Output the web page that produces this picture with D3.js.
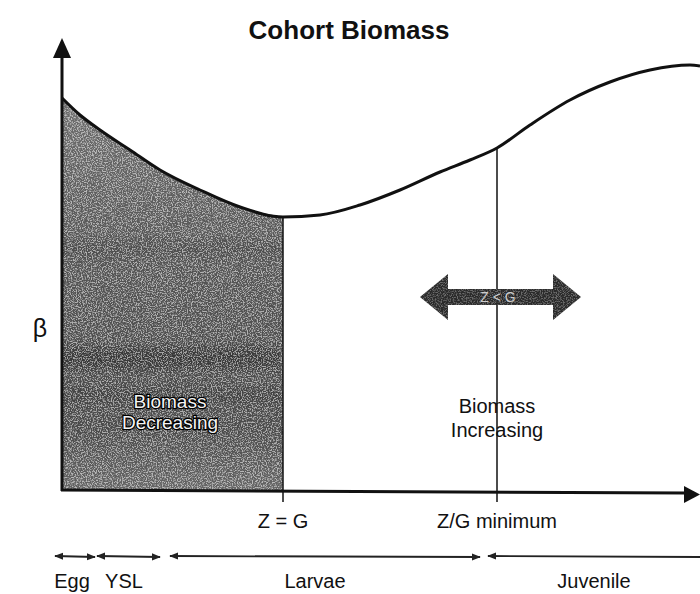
<!DOCTYPE html>
<meta charset="utf-8">
<style>
body { margin: 0; background: #fff; }
text { font-family: "Liberation Sans", Arial, sans-serif; }
.curve { fill: none; stroke: #111; stroke-width: 3px; }
.axis-line { stroke: #111; stroke-width: 3px; }
</style>
<body>
<script src="https://d3js.org/d3.v7.min.js"></script>
<script>

// curve (age units, biomass units)
var ages    = [0, 1.8, 3.8, 6.8, 9.8, 13.8, 17.8, 22.1, 25.8, 29.8, 33.8, 37.8, 40.8, 43.5, 46.8, 50.8, 54.8, 58.8, 62.8, 63.8];
var biomass = [39.2, 37.5, 36, 34, 32, 30, 28.3, 27.3, 27.5, 28.5, 30, 31.8, 33, 34.2, 36.5, 39, 40.8, 42, 42.5, 42.4];

// marks on the x axis
var markerNames = ["Z = G", "Z/G minimum"];
var markerAges  = [22.1, 43.5];

// life stages along the bottom
var stageNames = ["Egg", "YSL", "Larvae", "Juvenile"];
var stageStart = [-0.7, 3.5, 10.8, 42.6];
var stageEnd   = [3.3, 9.8, 41.8, 64];

var width = 700, height = 594;
var svg = d3.select("body").append("svg")
    .attr("width", width)
    .attr("height", height);

var x = d3.scaleLinear().domain([0, 64]).range([62, 702]);
var y = d3.scaleLinear().domain([0, 45]).range([490, 40]);

var defs = svg.append("defs");
// grainy speckles for the shaded area
var f = defs.append("filter").attr("id", "grain")
    .attr("x", 0).attr("y", 0).attr("width", 1).attr("height", 1);
f.append("feTurbulence").attr("type", "fractalNoise")
    .attr("baseFrequency", 0.8).attr("numOctaves", 2).attr("seed", 5).attr("result", "n");
f.append("feColorMatrix").attr("in", "n").attr("type", "matrix")
    .attr("values", "0 0 0 0 1  0 0 0 0 1  0 0 0 0 1  4.5 0 0 0 -2.0")
    .attr("result", "dots");
f.append("feComposite").attr("in", "dots").attr("in2", "SourceGraphic").attr("operator", "in");

defs.append("filter").attr("id", "soft")
    .attr("x", 0).attr("y", -1).attr("width", 1).attr("height", 3)
  .append("feGaussianBlur").attr("stdDeviation", "0 5");

// softer vertical shading: lighter near the top and the edges
var g = defs.append("linearGradient").attr("id", "shadeGrad")
    .attr("x1", 0).attr("y1", 0).attr("x2", 0).attr("y2", 1);
g.append("stop").attr("offset", "0%").attr("stop-color", "#6e6e6e");
g.append("stop").attr("offset", "40%").attr("stop-color", "#555");
g.append("stop").attr("offset", "85%").attr("stop-color", "#4a4a4a");
g.append("stop").attr("offset", "100%").attr("stop-color", "#666");

defs.append("marker").attr("id", "head")
    .attr("viewBox", "0 0 10 10").attr("refX", 9).attr("refY", 5)
    .attr("markerWidth", 5).attr("markerHeight", 5).attr("orient", "auto-start-reverse")
  .append("path").attr("d", "M0,1 L10,5 L0,9 Z").attr("fill", "#222");

var pts = ages.map(function(a, i) { return [a, biomass[i]]; });
var zg = markerAges[0];
var shadePts = pts.filter(function(p) { return p[0] <= zg; });

var area = d3.area().curve(d3.curveMonotoneX)
    .x(function(d) { return x(d[0]); })
    .y0(y(0))
    .y1(function(d) { return y(d[1]); });

svg.append("path").datum(shadePts)
    .attr("d", area)
    .attr("fill", "url(#shadeGrad)");
// darker bands in the scan
[[242, 12, 0.12], [347, 22, 0.28], [388, 14, 0.15]].forEach(function(b) {
  svg.append("rect")
      .attr("x", x(0) + 2).attr("y", b[0]).attr("width", x(zg) - x(0) - 5).attr("height", b[1])
      .attr("fill", "#000").attr("opacity", b[2]).attr("filter", "url(#soft)");
});
svg.append("path").datum(shadePts)
    .attr("d", area)
    .attr("fill", "#fff").attr("opacity", 0.55)
    .attr("filter", "url(#grain)");

svg.append("line")
    .attr("x1", x(zg)).attr("x2", x(zg))
    .attr("y1", y(biomass[ages.indexOf(zg)])).attr("y2", y(0) + 12)
    .attr("stroke", "#111").attr("stroke-width", 1.5);

svg.append("line")
    .attr("x1", x(markerAges[1])).attr("x2", x(markerAges[1]))
    .attr("y1", y(biomass[ages.indexOf(markerAges[1])])).attr("y2", y(0) + 12)
    .attr("stroke", "#111").attr("stroke-width", 1.5);

var line = d3.line().curve(d3.curveMonotoneX)
    .x(function(d) { return x(d[0]); })
    .y(function(d) { return y(d[1]); });
svg.append("path").datum(pts).attr("class", "curve").attr("d", line);

// axes with arrow heads
svg.append("line").attr("class", "axis-line")
    .attr("x1", x(0)).attr("y1", y(0) + 1).attr("x2", x(0)).attr("y2", 56);
svg.append("path").attr("d", "M" + (x(0) - 9) + ",58 L" + x(0) + ",38 L" + (x(0) + 9) + ",58 Z").attr("fill", "#111");
svg.append("line").attr("class", "axis-line")
    .attr("x1", x(0) - 1).attr("y1", y(0)).attr("x2", 686).attr("y2", y(0) + 3);
svg.append("path").attr("d", "M684,486 L700,494.5 L684,503 Z").attr("fill", "#111");

// double arrow Z < G
var ax0 = 420, ax1 = 581, ay = 297;
var dbl = "M" + ax0 + "," + ay +
    " L" + (ax0 + 28) + "," + (ay - 23) + " L" + (ax0 + 28) + "," + (ay - 8) +
    " L" + (ax1 - 28) + "," + (ay - 8) + " L" + (ax1 - 28) + "," + (ay - 23) +
    " L" + ax1 + "," + ay +
    " L" + (ax1 - 28) + "," + (ay + 23) + " L" + (ax1 - 28) + "," + (ay + 8) +
    " L" + (ax0 + 28) + "," + (ay + 8) + " L" + (ax0 + 28) + "," + (ay + 23) + " Z";
svg.append("path").attr("d", dbl).attr("fill", "#2a2a2a");
svg.append("path").attr("d", dbl).attr("fill", "#fff").attr("opacity", 0.3).attr("filter", "url(#grain)");
svg.append("text").attr("x", 498).attr("y", 302)
    .attr("text-anchor", "middle").attr("font-size", 14)
    .attr("fill", "#ccc").text("Z < G");

// labels
svg.append("text").attr("x", 349).attr("y", 39)
    .attr("text-anchor", "middle").attr("font-size", 26).attr("font-weight", "bold")
    .attr("fill", "#111").text("Cohort Biomass");
svg.append("text").attr("x", 40).attr("y", 337)
    .attr("text-anchor", "middle").attr("font-size", 25)
    .attr("font-family", "DejaVu Sans").attr("fill", "#111").text("β");

svg.selectAll(".mk").data(markerNames).enter().append("text")
    .attr("x", function(d, i) { return x(markerAges[i]); })
    .attr("y", 528).attr("text-anchor", "middle").attr("font-size", 20)
    .attr("fill", "#111").text(function(d) { return d; });

var inc = svg.append("text").attr("text-anchor", "middle").attr("font-size", 20).attr("fill", "#111");
inc.append("tspan").attr("x", x(markerAges[1])).attr("y", 413).text("Biomass");
inc.append("tspan").attr("x", x(markerAges[1])).attr("y", 437).text("Increasing");

var dec = svg.append("text").attr("text-anchor", "middle").attr("font-size", 19)
    .attr("fill", "#f4f4f4").attr("stroke", "#000").attr("stroke-width", 2.5)
    .attr("paint-order", "stroke");
dec.append("tspan").attr("x", 170).attr("y", 408).text("Biomass");
dec.append("tspan").attr("x", 170).attr("y", 429).text("Decreasing");

// stage arrows
svg.selectAll(".st").data(stageNames).enter().append("line")
    .attr("x1", function(d, i) { return x(stageStart[i]); })
    .attr("x2", function(d, i) { return x(stageEnd[i]); })
    .attr("y1", 556).attr("y2", 557)
    .attr("stroke", "#222").attr("stroke-width", 1.8)
    .attr("marker-start", "url(#head)")
    .attr("marker-end", function(d, i) { return i < 3 ? "url(#head)" : null; });

var stageLabelX = [72, 124, 315, 594];
svg.selectAll(".sl").data(stageNames).enter().append("text")
    .attr("x", function(d, i) { return stageLabelX[i]; })
    .attr("y", 588).attr("text-anchor", "middle").attr("font-size", 20)
    .attr("fill", "#111").text(function(d) { return d; });

</script>
</body>
